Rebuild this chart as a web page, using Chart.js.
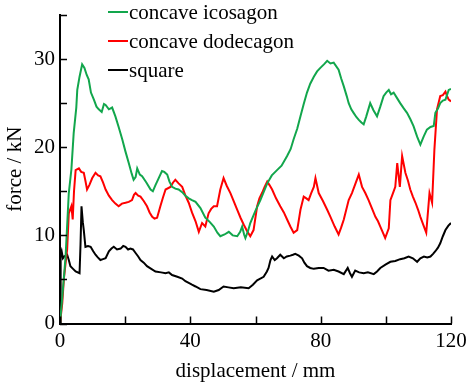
<!DOCTYPE html>
<html>
<head>
<meta charset="utf-8">
<script src="https://cdn.jsdelivr.net/npm/chart.js@4.4.1/dist/chart.umd.min.js"></script>
<style>
  html, body { margin: 0; padding: 0; background: #fff; }
  #wrap { width: 468px; height: 385px; }
</style>
</head>
<body>
<div id="wrap"><canvas id="chart" width="468" height="385"></canvas></div>
<script>
// values (displacement mm, force kN)
const seriesNames = ["concave icosagon", "concave dodecagon", "square"];

const icosagonPts = [
  [0,0],[0.7,3],[1.7,7.5],[2.7,14.8],[3.5,17.5],[4.2,21.6],[5.0,24.5],[5.3,26.5],[6.0,28.0],[6.8,29.4],
  [7.5,29.0],[8.2,28.2],[8.8,27.7],[9.5,26.2],[10.4,25.4],[11.2,24.6],[11.9,24.3],[12.8,24.0],[13.5,24.9],[14.0,24.8],
  [15.0,24.3],[16.0,24.5],[17.0,23.5],[18.0,22.3],[19.1,20.9],[20.1,19.5],[21.1,18.2],[22.0,17.0],[22.6,16.3],[23.2,16.6],
  [23.7,17.6],[24.5,16.9],[25.2,16.7],[26.5,16.0],[27.8,15.2],[28.5,15.0],[29.3,15.7],[30.3,16.5],[31.3,17.3],[32.0,17.2],
  [32.9,16.9],[33.6,16.1],[34.4,15.5],[35.4,15.3],[36.4,15.2],[37.5,14.9],[38.5,14.5],[39.5,14.2],[40.5,14.0],[41.6,13.8],
  [43.1,13.1],[44.6,12.0],[46.0,11.5],[47.2,11.0],[48.3,10.3],[49.2,9.9],[50.5,10.1],[51.8,10.4],[53.0,10.0],[54.4,9.9],
  [55.3,10.4],[55.9,11.0],[56.5,10.1],[56.9,9.7],[57.7,10.5],[58.4,11.4],[60.0,12.8],[61.5,14.0],[62.5,14.9],[63.6,15.9],
  [65.0,16.8],[66.6,17.4],[68.0,17.9],[69.7,19.0],[70.8,19.8],[71.7,20.9],[72.8,22.1],[73.8,23.5],[74.8,24.9],[75.8,26.2],
  [76.8,27.2],[77.9,28.0],[78.9,28.6],[79.9,29.0],[81.0,29.4],[82.0,29.8],[83.0,29.5],[84.0,29.6],[85.5,28.8],[86.3,27.8],
  [87.1,26.9],[88.0,25.8],[88.6,25.0],[89.4,24.3],[90.1,23.9],[91.0,23.4],[91.7,23.1],[92.5,22.8],[93.2,22.6],[94.0,23.5],
  [95.2,25.0],[96.2,24.2],[97.3,23.5],[98.3,24.6],[99.3,25.8],[100.1,26.2],[100.9,26.5],[101.6,26.0],[102.4,26.2],[103.4,25.6],
  [104.4,25.0],[105.5,24.4],[106.5,23.9],[107.5,23.2],[108.5,22.4],[109.6,21.2],[110.6,20.3],[111.6,21.2],[112.6,22.0],[113.7,22.3],
  [114.7,22.4],[115.2,23.9],[116.0,24.4],[116.7,25.0],[117.5,25.3],[118.3,25.4],[119.3,26.5],[120.0,26.6]
];

const dodecagonPts = [
  [0,0],[0.7,2.3],[1.2,5.1],[1.7,6.8],[2.2,8.4],[2.7,12.5],[3.5,13.3],[3.9,11.8],[4.3,15.0],[4.8,17.4],
  [5.8,17.6],[6.5,17.2],[7.3,17.1],[7.8,16.2],[8.3,15.2],[9.0,15.7],[9.9,16.5],[10.9,17.1],[11.7,16.8],[12.4,16.7],
  [13.2,16.0],[14.0,15.2],[15.0,14.5],[16.0,14.0],[17.0,13.6],[18.0,13.3],[19.0,13.6],[20.1,13.7],[21.1,13.8],[22.1,14.0],
  [22.7,14.6],[23.2,14.8],[24.0,14.5],[24.7,14.4],[25.7,13.9],[26.7,13.3],[27.5,12.6],[28.3,12.1],[29.0,11.9],[29.8,12.0],
  [30.8,13.3],[31.6,14.3],[32.4,15.2],[33.9,15.5],[34.7,16.0],[35.4,16.3],[36.4,15.9],[37.5,15.5],[38.5,14.5],[39.5,13.7],
  [40.5,12.6],[41.6,11.6],[42.6,10.4],[43.6,11.4],[44.6,11.0],[45.6,12.5],[46.4,13.0],[47.2,13.3],[48.2,13.3],[49.2,15.2],
  [50.2,16.5],[51.2,15.6],[52.3,14.8],[53.4,13.8],[54.4,12.9],[55.4,12.0],[56.4,11.2],[57.4,10.5],[58.4,9.9],[59.4,10.6],
  [60.5,13.3],[61.2,14.2],[62.0,14.8],[62.8,15.5],[63.6,16.1],[64.3,15.7],[65.1,15.2],[66.3,14.2],[67.6,13.3],[68.7,12.6],
  [69.7,11.8],[70.7,11.0],[71.7,10.3],[72.8,10.6],[73.8,12.9],[74.8,14.4],[75.6,14.2],[76.3,14.0],[77.1,14.8],[77.9,15.5],
  [78.4,16.5],[79.4,14.8],[80.7,13.9],[82.0,12.9],[83.0,12.1],[84.3,11.0],[85.5,10.1],[86.3,10.9],[87.1,11.8],[88.6,14.0],
  [89.6,14.8],[90.7,15.9],[91.7,16.9],[92.7,15.5],[93.7,14.8],[94.7,14.0],[95.8,13.0],[96.8,12.1],[97.6,11.6],[98.3,11.0],
  [99.1,10.3],[99.8,9.7],[100.9,10.8],[101.4,14.0],[102.2,14.8],[102.9,15.5],[103.5,18.2],[104.3,15.5],[105.0,19.0],[106.0,17.1],
  [106.8,16.2],[107.5,15.2],[108.3,14.4],[109.1,13.7],[109.9,12.9],[110.6,12.1],[111.5,11.2],[112.4,10.3],[113.4,14.8],[114.2,13.7],
  [114.9,19.7],[115.7,24.3],[116.7,25.8],[117.5,25.9],[118.3,26.3],[118.8,25.8],[119.3,25.4],[120.0,25.2]
];

const squarePts = [
  [0,0],[0.2,7.8],[0.5,8.2],[0.9,7.4],[1.3,7.6],[2.2,7.8],[2.7,7.2],[3.2,6.5],[4.0,6.2],[4.8,5.9],
  [6.0,5.7],[6.3,9.0],[6.6,13.3],[7.0,11.5],[7.3,10.6],[7.8,8.7],[8.6,8.8],[9.4,8.7],[10.2,8.2],[10.9,7.8],
  [11.6,7.5],[12.4,7.2],[13.2,7.3],[14.0,7.4],[15.0,8.2],[15.8,8.5],[16.5,8.7],[17.5,8.4],[18.6,8.5],[19.4,8.8],
  [20.1,8.7],[20.9,8.4],[21.6,8.5],[22.4,8.4],[23.2,8.0],[24.0,7.6],[24.7,7.2],[25.7,6.9],[26.7,6.5],[28.0,6.2],
  [29.3,5.9],[31.0,5.8],[32.4,5.7],[33.4,5.8],[34.4,5.5],[36.0,5.3],[37.5,5.1],[38.5,4.8],[39.5,4.6],[40.5,4.4],
  [41.6,4.2],[43.1,3.9],[45.0,3.8],[47.2,3.6],[48.7,3.8],[50.2,4.2],[51.7,4.1],[53.3,4.0],[55.5,4.1],[57.9,4.0],
  [59.2,4.4],[60.5,4.9],[62.5,5.3],[63.5,5.9],[64.0,6.3],[64.6,7.2],[65.1,7.6],[65.9,7.2],[66.6,7.4],[67.6,7.8],
  [68.7,7.4],[69.6,7.6],[70.7,7.7],[71.5,7.8],[72.2,7.9],[73.3,7.7],[74.3,7.4],[75.0,6.9],[75.8,6.5],[76.8,6.3],
  [77.9,6.2],[79.4,6.3],[80.9,6.3],[82.4,6.0],[84.0,6.1],[85.5,5.9],[87.1,5.6],[88.3,6.3],[89.0,5.7],[89.6,5.3],
  [90.6,6.0],[91.8,5.8],[93.2,5.7],[94.5,5.8],[96.3,5.6],[97.3,5.9],[98.3,6.3],[100.0,6.7],[101.4,7.0],[102.9,7.1],
  [104.4,7.3],[105.7,7.4],[107.0,7.6],[108.3,7.4],[109.6,7.0],[110.6,7.4],[111.7,7.6],[112.7,7.5],[113.7,7.6],[114.5,7.9],
  [115.2,8.2],[116.0,8.6],[116.7,9.1],[117.5,9.9],[118.3,10.6],[119.2,11.1],[120.0,11.4]
];

const xTicks = [0, 20, 40, 60, 80, 100, 120];
const xLabels = [0, 40, 80, 120];
const yTicks = [0, 5, 10, 15, 20, 25, 30, 35];
const yLabels = [0, 10, 20, 30];

const colors = ["#12a64c", "#ff0000", "#000000"];
const serif = "'Liberation Serif', 'Times New Roman', serif";

function toXY(pts) {
  return pts.map(p => ({ x: p[0], y: p[1] }));
}

// short line + label legend sitting inside the plot, top left
const legendInside = {
  id: "legendInside",
  afterDraw(chart) {
    const ctx = chart.ctx;
    ctx.save();
    ctx.font = `21px ${serif}`;
    ctx.textBaseline = "middle";
    chart.data.datasets.forEach((ds, i) => {
      const y = 12 + i * 29;
      ctx.strokeStyle = ds.borderColor;
      ctx.lineWidth = 2;
      ctx.beginPath();
      ctx.moveTo(108, y);
      ctx.lineTo(128, y);
      ctx.stroke();
      ctx.fillStyle = "#000";
      ctx.fillText(ds.label, 129, y + 1);
    });
    ctx.restore();
  }
};

// tick marks pointing into the plot
const innerTicks = {
  id: "innerTicks",
  afterDraw(chart) {
    const ctx = chart.ctx;
    const xs = chart.scales.x, ys = chart.scales.y;
    const area = chart.chartArea;
    ctx.save();
    ctx.strokeStyle = "#000";
    ctx.lineWidth = 1.5;
    ctx.beginPath();
    xTicks.forEach(v => {
      const px = Math.round(xs.getPixelForValue(v)) + 0.5;
      ctx.moveTo(px, area.bottom);
      ctx.lineTo(px, area.bottom - 7);
    });
    yTicks.forEach(v => {
      const py = Math.round(ys.getPixelForValue(v)) + 0.5;
      ctx.moveTo(area.left, py);
      ctx.lineTo(area.left + 7, py);
    });
    ctx.stroke();
    ctx.restore();
  }
};

new Chart(document.getElementById("chart"), {
  type: "scatter",
  data: {
    datasets: [icosagonPts, dodecagonPts, squarePts].map((pts, i) => ({
      label: seriesNames[i],
      data: toXY(pts),
      showLine: true,
      borderColor: colors[i],
      backgroundColor: colors[i],
      borderWidth: 2,
      pointRadius: 0,
      tension: 0
    }))
  },
  options: {
    responsive: false,
    animation: false,
    devicePixelRatio: 1,
    layout: { padding: { top: 15, right: 17, left: 0, bottom: 0 } },
    plugins: { legend: { display: false }, tooltip: { enabled: false } },
    scales: {
      x: {
        type: "linear",
        min: 0, max: 120,
        afterBuildTicks: s => { s.ticks = xTicks.map(v => ({ value: v })); },
        afterFit: s => { s.height = 61.5; s.paddingLeft = 0; s.paddingRight = 0; },
        grid: { display: false, drawTicks: false },
        border: { display: true, color: "#000", width: 2 },
        ticks: {
          color: "#000",
          padding: 5,
          maxRotation: 0,
          autoSkip: false,
          font: { family: serif, size: 21 },
          callback: v => xLabels.includes(v) ? String(v) : ""
        },
        title: {
          display: true,
          text: "displacement / mm",
          color: "#000",
          font: { family: serif, size: 21 },
          padding: { top: 0, bottom: 1 }
        }
      },
      y: {
        type: "linear",
        min: 0, max: 35,
        afterBuildTicks: s => { s.ticks = yTicks.map(v => ({ value: v })); },
        afterFit: s => { s.width = 60; s.paddingTop = 0; s.paddingBottom = 0; },
        grid: { display: false, drawTicks: false },
        border: { display: true, color: "#000", width: 2 },
        ticks: {
          color: "#000",
          padding: 5,
          autoSkip: false,
          font: { family: serif, size: 21 },
          callback: v => yLabels.includes(v) ? String(v) : ""
        },
        title: {
          display: true,
          text: "force / kN",
          color: "#000",
          font: { family: serif, size: 21 },
          padding: { top: 3, bottom: 0 }
        }
      }
    }
  },
  plugins: [innerTicks, legendInside]
});
</script>
</body>
</html>
